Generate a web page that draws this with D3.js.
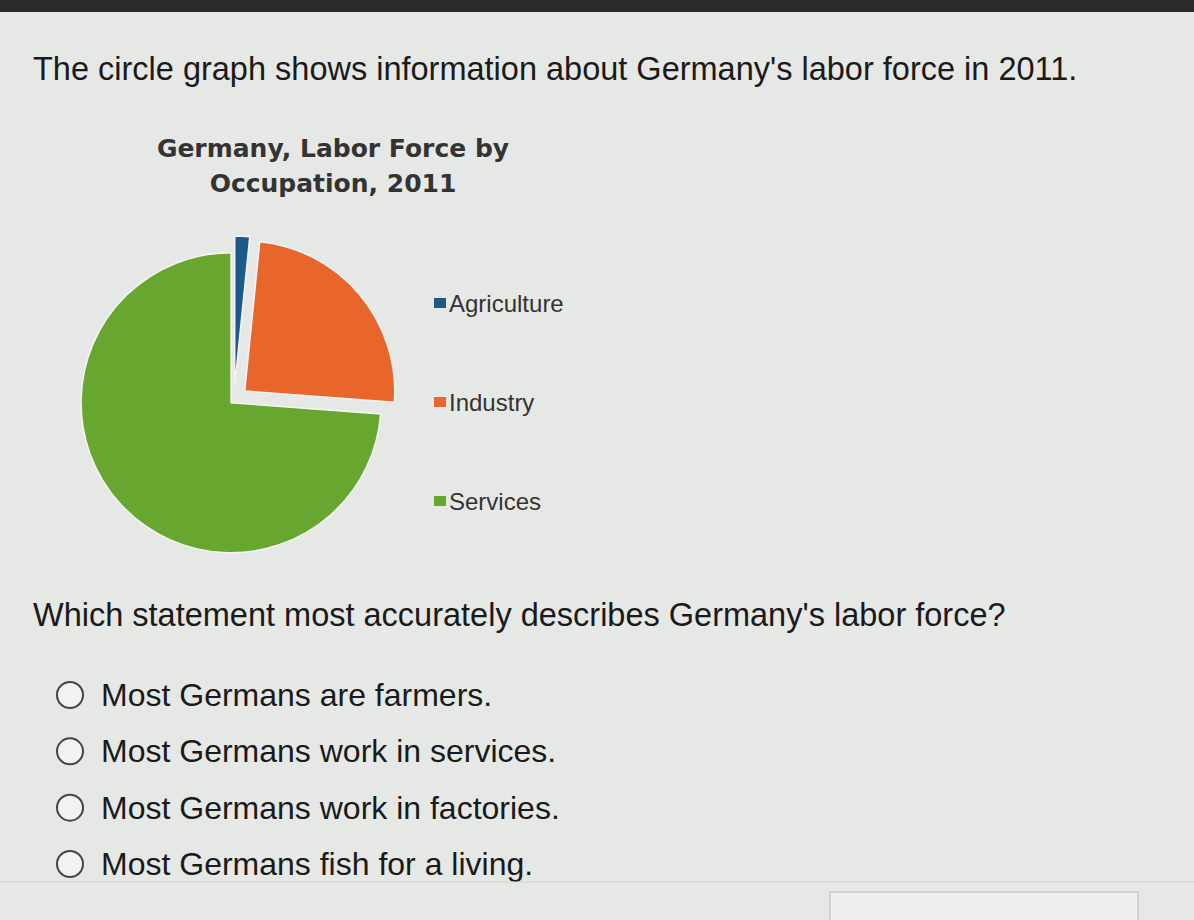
<html>
<script src="https://d3js.org/d3.v7.min.js"></script>
<style>
  body { margin: 0; background: #e6e8e6; }
  text { font-family: "Liberation Sans", Arial, sans-serif; }
</style>
<body>
<div id="chart"></div>
<script>
const categories = ["Agriculture", "Industry", "Services"];
const shares = [1.6, 24.6, 73.8];
const colors = ["#1d5a8a", "#e8652b", "#67a72f"];
const answers = [
  "Most Germans are farmers.",
  "Most Germans work in services.",
  "Most Germans work in factories.",
  "Most Germans fish for a living."
];

const svg = d3.select("#chart").append("svg")
  .attr("width", 1194).attr("height", 920);

svg.append("rect").attr("width", 1194).attr("height", 920).attr("fill", "#e6e8e6");
svg.append("rect").attr("width", 1194).attr("height", 12).attr("fill", "#2a2a2a");

svg.append("text").attr("x", 33).attr("y", 80)
  .style("font-size", "32.5px").attr("fill", "#1a1a1a")
  .text("The circle graph shows information about Germany's labor force in 2011.");

const title = svg.append("text").attr("text-anchor", "middle")
  .style("font-family", "'DejaVu Sans', sans-serif").style("font-weight", "bold")
  .style("font-size", "25px").attr("fill", "#333");
title.append("tspan").attr("x", 333).attr("y", 157).text("Germany, Labor Force by");
title.append("tspan").attr("x", 333).attr("y", 192).text("Occupation, 2011");

const pie = d3.pie().sort(null).value(d => d)(shares);
const arc = d3.arc().innerRadius(0).outerRadius(150);
const offsets = [14, 14, 4];
const g = svg.append("g").attr("transform", "translate(234,400)");
g.selectAll("path").data(pie).enter().append("path")
  .attr("d", arc)
  .attr("fill", (d, i) => colors[i])
  .attr("stroke", "#f4f4f4").attr("stroke-width", 1.5)
  .attr("transform", (d, i) => {
    const a = (d.startAngle + d.endAngle) / 2;
    return `translate(${Math.sin(a) * offsets[i]},${-Math.cos(a) * offsets[i]})`;
  });

const ly = d3.scalePoint().domain(categories).range([303, 501]);
const legend = svg.selectAll(".lg").data(categories).enter().append("g")
  .attr("transform", d => `translate(434,${ly(d)})`);
legend.append("rect").attr("x", 0).attr("y", -5).attr("width", 12).attr("height", 10)
  .attr("fill", (d, i) => colors[i]);
legend.append("text").attr("x", 15).attr("y", 9)
  .style("font-size", "24px").attr("fill", "#333").text(d => d);

svg.append("text").attr("x", 33).attr("y", 626)
  .style("font-size", "32.5px").attr("fill", "#1a1a1a")
  .text("Which statement most accurately describes Germany's labor force?");

const ay = d3.scalePoint().domain(answers).range([695, 864]);
const opt = svg.selectAll(".opt").data(answers).enter().append("g")
  .attr("transform", d => `translate(0,${ay(d)})`);
opt.append("circle").attr("cx", 70).attr("cy", 0).attr("r", 13)
  .attr("fill", "#f2f2f2").attr("stroke", "#444").attr("stroke-width", 2);
opt.append("text").attr("x", 101).attr("y", 11)
  .style("font-size", "32px").attr("fill", "#1a1a1a").text(d => d);

svg.append("line").attr("x1", 0).attr("x2", 1194).attr("y1", 882).attr("y2", 882)
  .attr("stroke", "#cfd1cf");
svg.append("rect").attr("x", 830).attr("y", 892).attr("width", 308).attr("height", 40)
  .attr("fill", "#eef0ee").attr("stroke", "#b8bab8");
</script>
</body>
</html>
